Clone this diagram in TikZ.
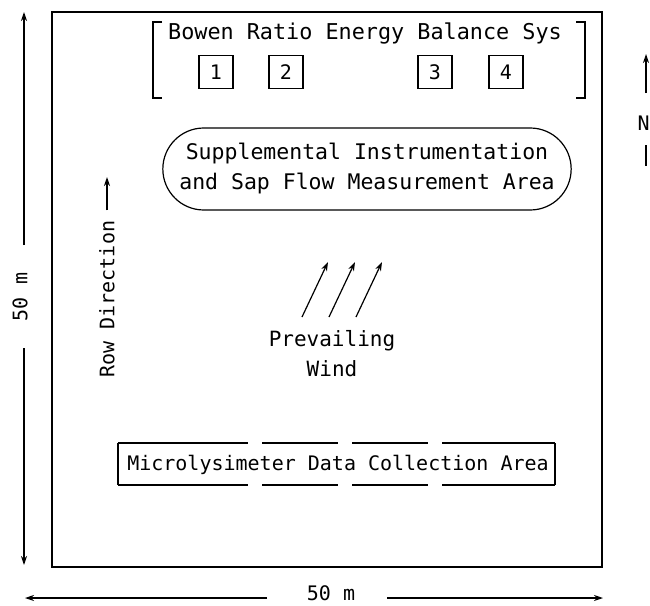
\documentclass[tikz,border=0pt]{standalone}
\usepackage{fontspec}
\newfontfamily\plotfont{DejaVu Sans Mono}
\usetikzlibrary{arrows.meta,shapes.misc}
\tikzset{
  plottext/.style={font=\plotfont\fontsize{#1}{30}\selectfont},
  plottext/.default=20,
  numbox/.style={draw, plottext, minimum width=34pt, minimum height=33pt, inner sep=0pt},
  dimarrow/.style={-{Stealth[length=9pt,width=6pt]}},
}
\begin{document}
\begin{tikzpicture}[x=1pt, y=-1pt, line width=1.2pt]
    \useasboundingbox (0,0) rectangle (650,605);
    \draw[line width=2.6pt] (52,12) rectangle (602,567); %Feld
    % Bowen ratio
    \node[plottext=21.8] (bowen) at (365,34) {Bowen Ratio Energy Balance Sys};
    \draw (162,22) -- (153,22) -- (153,98) -- (162,98);
    \draw (576,22) -- (585,22) -- (585,98) -- (576,98);
    \node[numbox] (b1) at (216,72) {1};
    \node[numbox] (b2) at (286,72) {2};
    \node[numbox] (b3) at (435,72) {3};
    \node[numbox] (b4) at (506,72) {4};
    % Zusatzmessungen
    \node[draw, rounded rectangle, plottext=21.5, align=center, minimum width=415pt, minimum height=82pt] (supp) at (367,169)
        {Supplemental Instrumentation\\and Sap Flow Measurement Area};
    % Reihenrichtung
    \node[plottext, rotate=90, anchor=west, inner sep=0pt] (row) at (107,378) {Row Direction};
    \coordinate (rowtip) at (107,177);
    \draw[dimarrow, shorten <=10pt] (row.east) -- (rowtip);
    % Wind
    \foreach \dx in {0,27,54}
        \draw[dimarrow] (302+\dx,317) -- (328+\dx,262);
    \node[plottext=21, align=center] (wind) at (332,354) {Prevailing\\Wind};
    % Mikrolysimeter
    \node[plottext] (micro) at (338,465) {Microlysimeter Data Collection Area};
    \draw (118,443) -- (118,485);
    \draw (555,443) -- (555,485);
    \foreach \a/\b in {118/248, 262/338, 352/428, 442/555} {
        \draw (\a,443) -- (\b,443);
        \draw (\a,485) -- (\b,485);
    }
    % Abmessungen
    \node[plottext, rotate=90] (hgt) at (20,297) {50 m};
    \coordinate (hgttop) at (24,12);
    \coordinate (hgtbot) at (24,565);
    \draw[dimarrow] (24,245) -- (hgttop);
    \draw[dimarrow] (24,348) -- (hgtbot);
    \node[plottext] (wid) at (331,593) {50 m};
    \coordinate (widleft) at (25,598);
    \coordinate (widright) at (603,598);
    \draw[dimarrow] (267,598) -- (widleft);
    \draw[dimarrow] (387,598) -- (widright);
    % Nordpfeil
    \coordinate (north) at (646,54);
    \draw[dimarrow] (646,93) -- (north);
    \node[plottext, anchor=west, inner sep=0pt] (nlabel) at (637,123) {N};
    \draw (646,145) -- (646,166);
\end{tikzpicture}
\end{document}
